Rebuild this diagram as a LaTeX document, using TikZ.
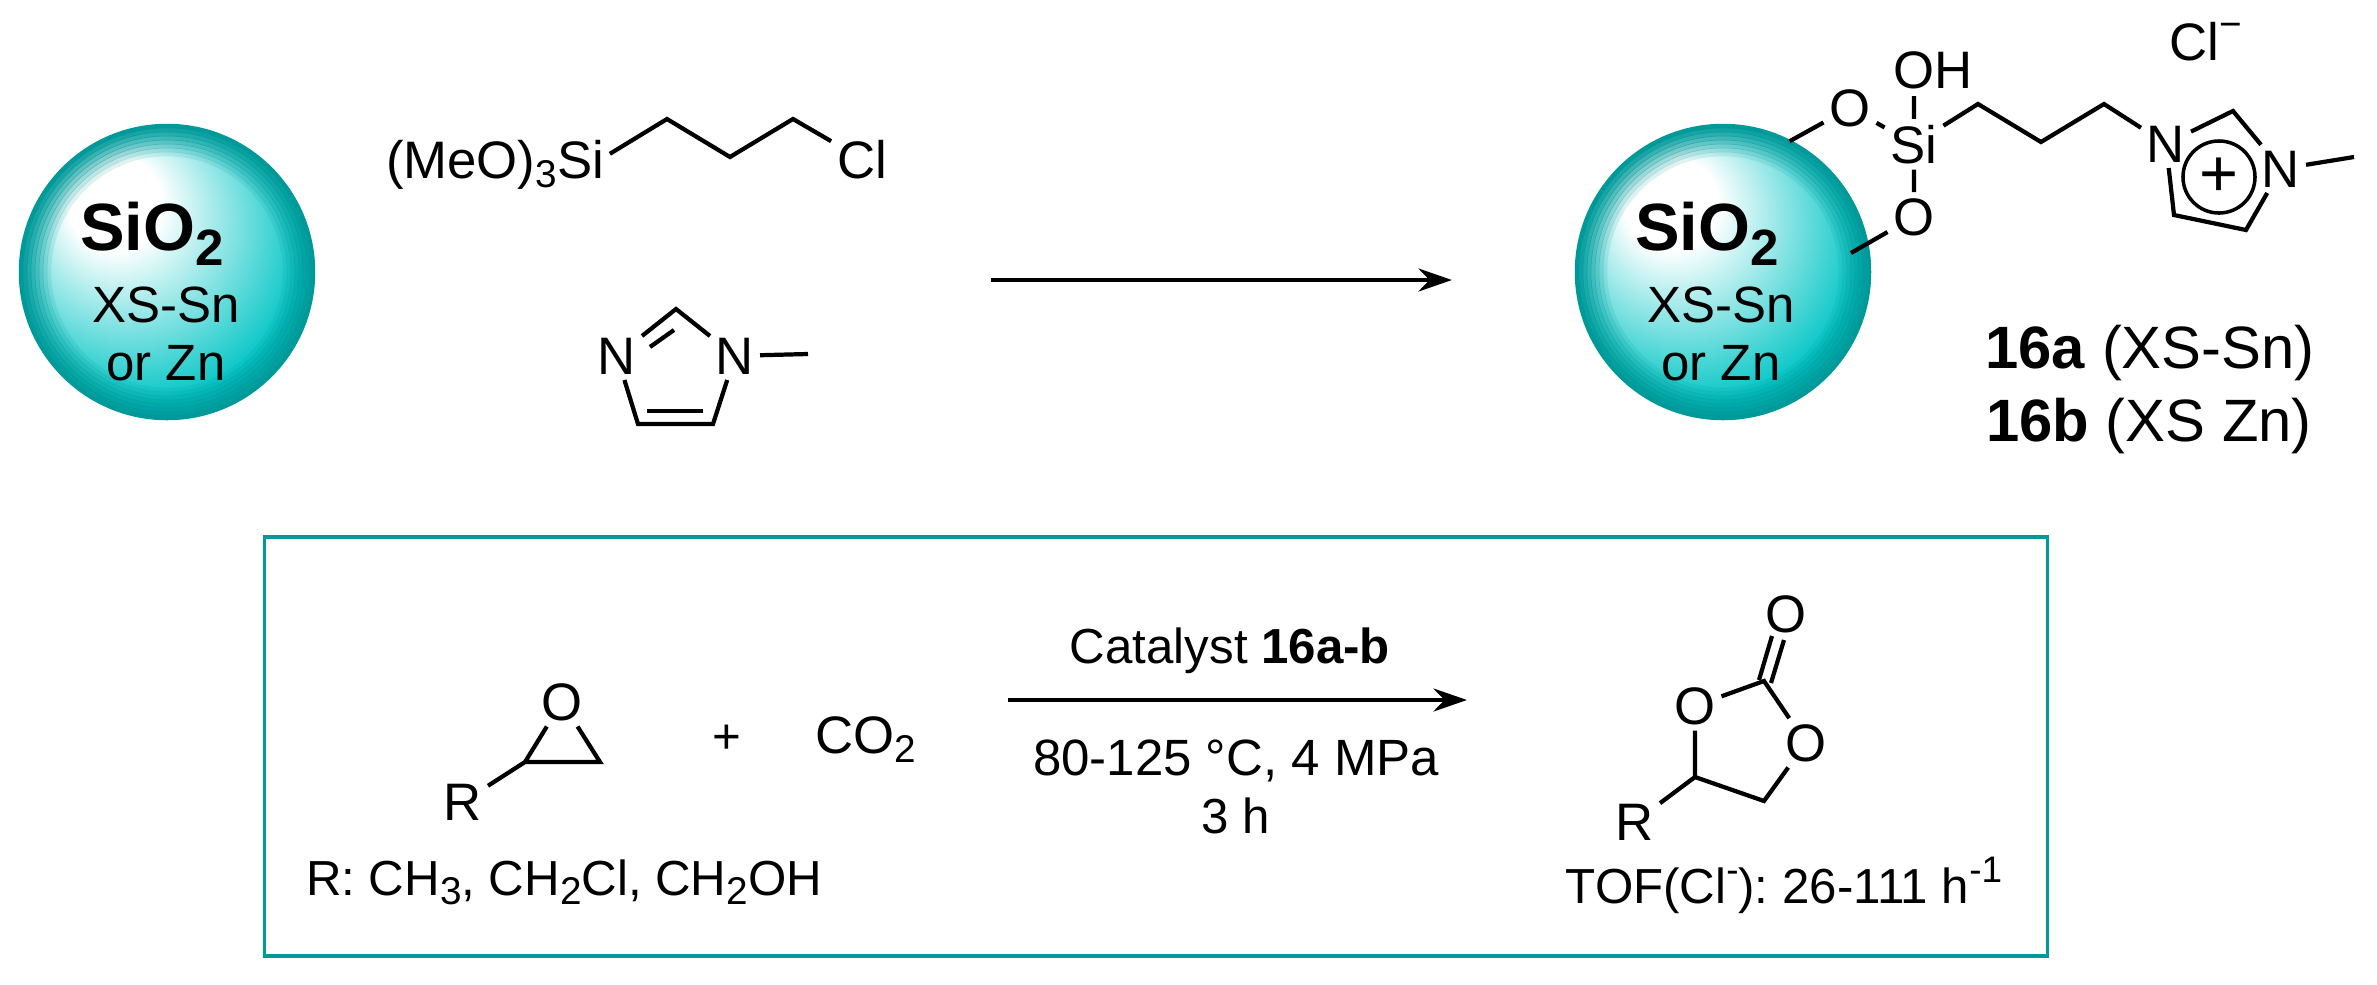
\documentclass[tikz,border=0pt]{standalone}
\usepackage{fontspec}
\setmainfont{Liberation Sans}
\frenchspacing
\usetikzlibrary{arrows, arrows.meta}
\definecolor{rimteal}{rgb}{0,0.6,0.6}
\pgfdeclareradialshading{silica}{\pgfpoint{-10.6bp}{14bp}}{rgb(0bp)=(1,1,1); rgb(8bp)=(1,1,1); rgb(29bp)=(0,0.77,0.77); rgb(50bp)=(0,0.77,0.77)}
\newcommand{\sbs}[1]{\raisebox{-2.8pt}{\fontsize{11}{11}\selectfont #1}}
\newcommand{\sps}[1]{\raisebox{5.7pt}{\fontsize{10.5}{10.5}\selectfont #1}}

\begin{document}
\begin{tikzpicture}[x=0.01cm,y=-0.01cm,>={Stealth[length=9.5pt,width=6.5pt]},
	bond/.style={line width=1.2pt},
	atom/.style={inner sep=1.5pt,anchor=base,font=\fontsize{15}{18}\selectfont},
	ballin/.style={inner sep=0pt,anchor=base,font=\fontsize{14.5}{18}\selectfont},
	ballname/.style={inner sep=0pt,anchor=base,font=\fontsize{19}{22}\selectfont\bfseries},
	boxtxt/.style={inner sep=1.5pt,anchor=base,font=\fontsize{14}{17}\selectfont},
	compound/.style={inner sep=0pt,anchor=base,font=\fontsize{17}{20}\selectfont}]
	\useasboundingbox (0,0) rectangle (2377,984);

	%spheres
	\foreach \bx/\bn in {167/ballL,1723/ballR}{
		\node (\bn) at (\bx,272) [circle,inner sep=0pt,minimum size=2.92cm,shade,shading=silica] {};
		\foreach \r [evaluate=\r as \o using (\r-114)/32] in {118,122,...,146}
			\draw[rimteal,line width=0.045cm,opacity=\o] (\bn.center) circle [radius=\r];
	}
	\node (nameL) at (152,250) [ballname] {SiO\raisebox{-4.3pt}{\fontsize{14.5}{14.5}\selectfont 2}};
	\node (metalL) at (166,322) [ballin] {XS-Sn};
	\node (orL) at (166,380) [ballin] {or Zn};
	\node (nameR) at (1707,250) [ballname] {SiO\raisebox{-4.3pt}{\fontsize{14.5}{14.5}\selectfont 2}};
	\node (metalR) at (1721,322) [ballin] {XS-Sn};
	\node (orR) at (1721,380) [ballin] {or Zn};

	%silane
	\node (silane) at (495,178) [atom] {(MeO)\sbs{3}Si};
	\node (clA) at (862,178) [atom] {Cl};
	\coordinate (a1) at (667,119);
	\coordinate (a2) at (730,157);
	\coordinate (a3) at (793,119);
	\draw[bond] ([yshift=3pt]silane.east) -- (a1) -- (a2) -- (a3) -- (clA);

	%methylimidazole
	\node (nA) at (617,374) [atom] {N};
	\node (nB) at (735,374) [atom] {N};
	\coordinate (b1) at (676,309);
	\coordinate (b2) at (638,424);
	\coordinate (b3) at (713,424);
	\coordinate (b4) at (808,354);
	\coordinate (b5) at (650,347);
	\coordinate (b6) at (674,330);
	\coordinate (b7) at (647,411);
	\coordinate (b8) at (703,411);
	\draw[bond] (nA) -- (b1) -- (nB) -- (b4);
	\draw[bond] (nA) -- (b2) -- (b3) -- (nB);
	\draw[bond] (b5) -- (b6);
	\draw[bond] (b7) -- (b8);

	%main arrow
	\coordinate (startA) at (991,280);
	\coordinate (endA) at (1452,280);
	\draw[->,line width=1.4pt] (startA) -- (endA);

	%supported catalyst
	\node (oA) at (1850,126) [atom] {O};
	\node (si) at (1914,163) [atom] {Si};
	\node (oB) at (1914,235) [atom] {O};
	\node (oh) at (1933,88) [atom] {OH};
	\node (cl) at (2206,60) [atom] {Cl\raisebox{6.4pt}{\fontsize{11}{11}\selectfont −}};
	\node (nC) at (2166,162) [atom] {N};
	\node (nD) at (2281,187) [atom] {N};
	\node (plus) at (2219,177) [circle,draw,line width=1pt,inner sep=0pt,minimum size=0.72cm,font=\fontsize{19}{19}\selectfont] {+};
	\coordinate (ohb) at (1914,96);
	\coordinate (ballb) at (1851,253);
	\coordinate (c1) at (1978,104);
	\coordinate (c2) at (2041,142);
	\coordinate (c3) at (2104,104);
	\coordinate (d1) at (2233,111);
	\coordinate (d2) at (2174,215);
	\coordinate (d3) at (2246,230);
	\coordinate (d4) at (2354,157);
	\draw[bond] (ballR.63) -- (oA) -- (si) -- (ohb);
	\draw[bond] (si) -- (oB) -- (ballb);
	\draw[bond] (si) -- (c1) -- (c2) -- (c3) -- (nC);
	\draw[bond] (nC) -- (d1) -- (nD) -- (d4);
	\draw[bond] (nC) -- (d2) -- (d3) -- (nD);

	%labels
	\node (lab16a) at (2150,368) [compound] {\textbf{16a} (XS-Sn)};
	\node (lab16b) at (2149,441) [compound] {\textbf{16b} (XS Zn)};

	%box
	\node (boxA) at (1156,746.5) [draw=rimteal,line width=1.1pt,inner sep=0pt,minimum width=17.82cm,minimum height=4.19cm] {};

	%epoxide
	\node (oE) at (562,720) [atom] {O};
	\node (rE) at (463,820) [atom] {R};
	\coordinate (e1) at (525,762);
	\coordinate (e2) at (600,762);
	\draw[bond] (rE) -- (e1) -- (oE) -- (e2) -- (e1);
	\node (plusE) at (727,753) [boxtxt] {+};
	\node (co2) at (866,753) [atom] {CO\sbs{2}};
	\node (rlist) at (564,895) [boxtxt] {R: CH\sbs{3}, CH\sbs{2}Cl, CH\sbs{2}OH};

	%second arrow
	\coordinate (startB) at (1008,700);
	\coordinate (endB) at (1467,700);
	\draw[->,line width=1.4pt] (startB) -- (endB);
	\node (cat) at (1230,663) [boxtxt] {Catalyst \textbf{16a-b}};
	\node (cond) at (1236,775) [boxtxt,font=\fontsize{14.5}{17}\selectfont] {80-125 °C, 4 MPa};
	\node (time) at (1236,833) [boxtxt] {3 h};

	%carbonate
	\node (oF) at (1786,632) [atom] {O};
	\node (oG) at (1695,724) [atom] {O};
	\node (oH) at (1806,761) [atom] {O};
	\node (rF) at (1635,840) [atom] {R};
	\coordinate (f1) at (1764,681);
	\coordinate (f2) at (1695,777);
	\coordinate (f3) at (1764,801);
	\coordinate (f4) at (1759,680);
	\coordinate (f5) at (1772,636);
	\coordinate (f6) at (1771,683);
	\coordinate (f7) at (1784,640);
	\draw[bond] (oG) -- (f1) -- (oH) -- (f3) -- (f2) -- (oG);
	\draw[bond] (f2) -- (rF);
	\draw[bond] (f4) -- (f5);
	\draw[bond] (f6) -- (f7);
	\node (tof) at (1784,903) [boxtxt] {TOF(Cl\sps{-}): 26-111 h\sps{-1}};
\end{tikzpicture}
\end{document}
